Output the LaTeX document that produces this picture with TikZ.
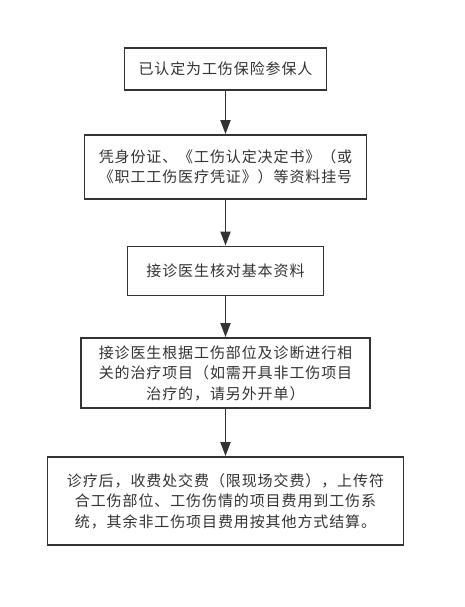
\documentclass[tikz,border=0pt]{standalone}
\usepackage{fontspec}
\newfontfamily\cjk[LetterSpace=6]{Noto Sans CJK SC}
\usetikzlibrary{arrows.meta}
\definecolor{ln}{HTML}{333333}
\tikzset{
  box/.style={draw=ln, line width=1.8pt, fill=white, align=center, inner sep=0pt,
    font=\cjk\fontsize{15}{20.5}\selectfont, text=ln},
  arr/.style={draw=ln, line width=1.8pt, -{Triangle[length=14pt,width=10pt]}}
}
\begin{document}
\begin{tikzpicture}[x=1pt,y=-1pt]
\useasboundingbox (0,0) rectangle (465,607);
\node[box, minimum width=202pt, minimum height=42pt] (b1) at (225.5,69) {已认定为工伤保险参保人};
\node[box, minimum width=282pt, minimum height=64pt] (b2) at (225.5,167) {凭身份证、《工伤认定决定书》（或\\《职工工伤医疗凭证》）等资料挂号};
\node[box, minimum width=196pt, minimum height=49pt] (b3) at (225.5,271) {接诊医生核对基本资料};
\node[box, minimum width=289pt, minimum height=70pt] (b4) at (225.5,373) {接诊医生根据工伤部位及诊断进行相\\关的治疗项目（如需开具非工伤项目\\治疗的，请另外开单）};
\node[box, minimum width=356pt, minimum height=88pt] (b5) at (225.5,501) {诊疗后，收费处交费（限现场交费），上传符\\合工伤部位、工伤伤情的项目费用到工伤系\\统，其余非工伤项目费用按其他方式结算。};
\draw[arr] (b1.south) -- (b2.north);
\draw[arr] (b2.south) -- (b3.north);
\draw[arr] (b3.south) -- (b4.north);
\draw[arr] (b4.south) -- (b5.north);
\end{tikzpicture}
\end{document}
